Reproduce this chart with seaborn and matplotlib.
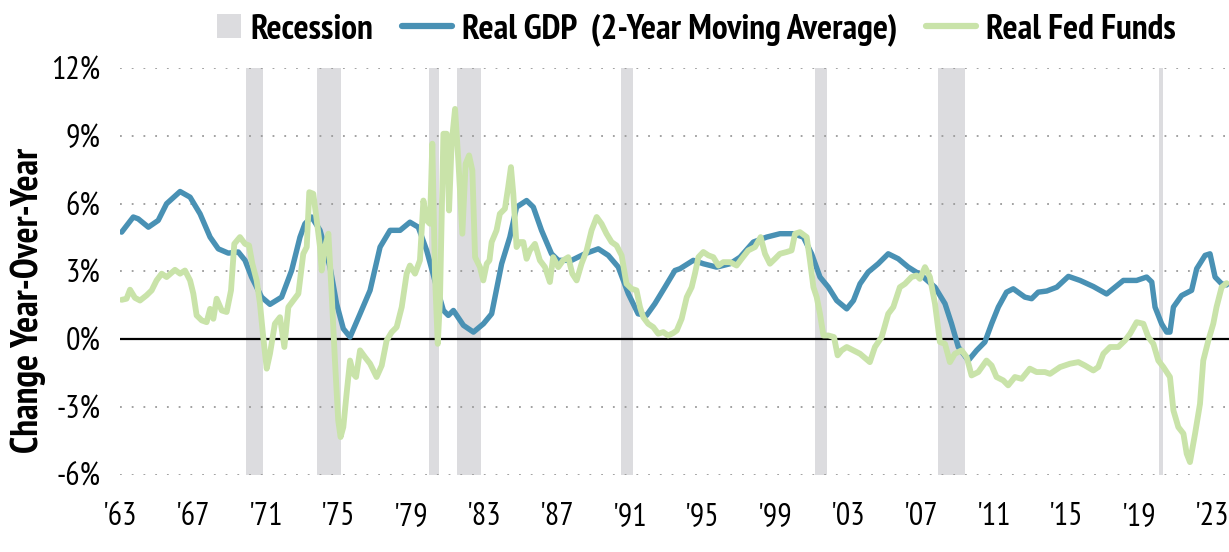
import matplotlib
matplotlib.use("Agg")
import matplotlib.pyplot as plt
import matplotlib.patches as mpatches
import seaborn as sns
import pandas as pd
from matplotlib.lines import Line2D
from matplotlib.legend_handler import HandlerPatch

# ---------------- data ----------------
gdp_years = [1963.09, 1963.73, 1964.0, 1964.56, 1965.1, 1965.56, 1966.3, 1966.85, 1967.4, 1967.95,
             1968.4, 1968.95, 1969.5, 1969.87, 1970.23, 1970.78, 1971.24, 1971.88, 1972.43, 1972.89,
             1973.16, 1973.53, 1973.99, 1974.54, 1974.9, 1975.27, 1975.64, 1976.19, 1976.74, 1977.29,
             1977.84, 1978.39, 1978.93, 1979.39, 1979.85, 1980.4, 1980.77, 1981.04, 1981.32, 1981.87,
             1982.42, 1982.97, 1983.42, 1983.97, 1984.42, 1984.79, 1985.34, 1985.71, 1986.16, 1986.71,
             1987.08, 1987.81, 1988.54, 1989.28, 1989.83, 1990.38, 1990.93, 1991.47, 1991.93, 1992.39,
             1992.94, 1993.49, 1993.77, 1994.5, 1995.05, 1995.78, 1996.52, 1997.07, 1997.8, 1998.53,
             1999.26, 1999.99, 2000.55, 2001.0, 2001.46, 2001.92, 2002.38, 2002.93, 2003.3, 2003.66,
             2004.11, 2004.66, 2005.21, 2005.76, 2006.31, 2007.04, 2007.78, 2008.33, 2008.69, 2009.06,
             2009.61, 2010.07, 2010.52, 2010.89, 2011.26, 2011.71, 2012.08, 2012.72, 2013.09, 2013.45,
             2013.92, 2014.47, 2015.11, 2015.75, 2016.48, 2017.21, 2018.13, 2018.86, 2019.41, 2019.69,
             2019.87, 2020.23, 2020.51, 2020.69, 2020.88, 2021.33, 2021.88, 2022.16, 2022.62, 2022.89,
             2023.17, 2023.53, 2023.8]
gdp_values = [4.74, 5.41, 5.33, 4.96, 5.26, 6.0, 6.54, 6.29, 5.55, 4.52,
              4.0, 3.81, 3.86, 3.49, 2.75, 1.86, 1.54, 1.86, 3.04, 4.52,
              5.11, 5.41, 4.82, 3.19, 1.57, 0.46, 0.09, 1.12, 2.16, 4.08,
              4.82, 4.82, 5.18, 4.96, 3.93, 2.3, 1.27, 1.05, 1.27, 0.61,
              0.31, 0.68, 1.12, 3.34, 4.52, 5.85, 6.14, 5.85, 4.82, 3.78,
              3.49, 3.49, 3.78, 4.0, 3.71, 3.19, 2.01, 1.12, 1.05, 1.57,
              2.3, 3.04, 3.12, 3.49, 3.34, 3.19, 3.34, 3.63, 4.3, 4.52,
              4.67, 4.67, 4.52, 3.78, 2.75, 2.3, 1.71, 1.34, 1.71, 2.45,
              2.97, 3.34, 3.78, 3.56, 3.19, 2.82, 2.3, 1.57, 0.68, -0.35,
              -0.95, -0.5, -0.13, 0.68, 1.42, 2.08, 2.23, 1.86, 1.79, 2.08,
              2.13, 2.3, 2.78, 2.6, 2.33, 2.0, 2.6, 2.6, 2.75, 2.53,
              1.42, 0.68, 0.31, 0.31, 1.42, 1.93, 2.16, 3.12, 3.71, 3.78,
              2.75, 2.45, 2.4]

ff_years = [1963.09, 1963.36, 1963.55, 1963.82, 1964.1, 1964.46, 1964.74, 1965.01, 1965.29, 1965.56,
            1966.02, 1966.3, 1966.57, 1966.85, 1967.03, 1967.21, 1967.49, 1967.76, 1967.95, 1968.13,
            1968.31, 1968.59, 1968.86, 1969.1, 1969.28, 1969.59, 1969.87, 1970.09, 1970.27, 1970.51,
            1970.69, 1970.87, 1971.06, 1971.24, 1971.51, 1971.79, 1972.03, 1972.25, 1972.52, 1972.8,
            1973.07, 1973.26, 1973.4, 1973.62, 1973.81, 1973.99, 1974.08, 1974.26, 1974.45, 1974.63,
            1974.81, 1974.99, 1975.12, 1975.27, 1975.45, 1975.64, 1975.82, 1975.97, 1976.19, 1976.46,
            1976.74, 1977.1, 1977.38, 1977.65, 1977.93, 1978.2, 1978.48, 1978.75, 1978.93, 1979.21,
            1979.48, 1979.67, 1979.85, 1980.03, 1980.16, 1980.31, 1980.46, 1980.58, 1980.77, 1980.95,
            1981.08, 1981.22, 1981.41, 1981.59, 1981.81, 1981.99, 1982.18, 1982.36, 1982.51, 1982.78,
            1982.96, 1983.15, 1983.3, 1983.42, 1983.69, 1983.87, 1984.15, 1984.33, 1984.48, 1984.61,
            1984.79, 1984.97, 1985.16, 1985.34, 1985.52, 1985.8, 1986.07, 1986.35, 1986.62, 1986.8,
            1987.08, 1987.35, 1987.63, 1987.85, 1988.09, 1988.36, 1988.64, 1988.91, 1989.19, 1989.46,
            1989.73, 1990.01, 1990.28, 1990.56, 1990.83, 1991.11, 1991.38, 1991.57, 1991.75, 1992.02,
            1992.3, 1992.57, 1992.85, 1993.12, 1993.4, 1993.59, 1993.86, 1994.14, 1994.41, 1994.59,
            1994.78, 1995.05, 1995.33, 1995.6, 1995.88, 1996.15, 1996.52, 1996.88, 1997.16, 1997.52,
            1997.89, 1998.2, 1998.44, 1998.71, 1998.99, 1999.26, 1999.63, 1999.9, 2000.09, 2000.36,
            2000.73, 2000.91, 2001.1, 2001.28, 2001.46, 2001.65, 2001.92, 2002.23, 2002.43, 2002.65,
            2002.93, 2003.29, 2003.66, 2004.2, 2004.48, 2004.85, 2005.21, 2005.49, 2005.85, 2006.13,
            2006.49, 2006.77, 2006.95, 2007.23, 2007.5, 2007.78, 2008.05, 2008.33, 2008.6, 2008.87,
            2009.24, 2009.52, 2009.79, 2010.16, 2010.61, 2010.89, 2011.16, 2011.53, 2011.8, 2012.17,
            2012.54, 2012.99, 2013.36, 2013.82, 2014.1, 2014.65, 2015.2, 2015.66, 2016.02, 2016.48,
            2016.75, 2017.03, 2017.4, 2017.85, 2018.22, 2018.5, 2018.86, 2019.23, 2019.5, 2019.78,
            2020.05, 2020.33, 2020.69, 2020.88, 2021.15, 2021.43, 2021.61, 2021.79, 2022.07, 2022.34,
            2022.52, 2022.8, 2023.07, 2023.25, 2023.53, 2023.8]
ff_values = [1.74, 1.79, 2.19, 1.83, 1.71, 1.94, 2.16, 2.6, 2.9, 2.75,
             3.07, 2.9, 3.04, 2.6, 2.01, 1.05, 0.83, 0.75, 1.34, 0.9,
             1.79, 1.27, 1.2, 2.16, 4.22, 4.52, 4.22, 4.15, 3.34, 2.6,
             1.57, 0.09, -1.31, -0.65, 0.68, 0.97, -0.35, 1.42, 1.71, 2.01,
             3.78, 4.08, 6.51, 6.44, 5.26, 4.08, 3.04, 4.08, 4.67, 2.01,
             -0.95, -3.6, -4.34, -3.9, -2.42, -0.95, -1.54, -1.68, -0.5, -0.8,
             -1.09, -1.68, -1.17, -0.06, 0.31, 0.53, 1.42, 2.9, 3.26, 2.9,
             3.49, 6.14, 5.26, 5.11, 8.66, 2.75, -0.21, 1.71, 9.1, 9.1,
             5.7, 8.66, 10.2, 7.92, 4.67, 7.77, 8.14, 7.47, 3.63, 3.19,
             2.6, 3.34, 3.49, 4.3, 4.82, 5.55, 5.78, 6.74, 7.62, 6.44,
             4.08, 4.3, 4.3, 3.56, 3.93, 4.22, 3.49, 3.19, 2.53, 3.63,
             3.19, 3.49, 3.63, 2.9, 2.6, 3.34, 3.93, 4.82, 5.41, 5.11,
             4.67, 4.3, 4.15, 3.71, 2.45, 2.23, 2.16, 1.42, 0.97, 0.68,
             0.53, 0.24, 0.31, 0.16, 0.27, 0.38, 0.9, 1.86, 2.3, 2.9,
             3.63, 3.86, 3.71, 3.63, 3.26, 3.41, 3.41, 3.26, 3.56, 3.93,
             4.08, 4.52, 3.78, 3.34, 3.56, 3.78, 3.86, 3.93, 4.67, 4.74,
             4.52, 3.49, 2.3, 1.86, 1.12, 0.16, 0.16, 0.09, -0.72, -0.5,
             -0.35, -0.5, -0.65, -1.02, -0.35, 0.09, 1.12, 1.42, 2.3, 2.45,
             2.75, 2.82, 2.67, 3.19, 2.75, 1.57, -0.13, -0.21, -1.02, -0.65,
             -0.5, -0.8, -1.61, -1.46, -0.95, -1.17, -1.68, -1.83, -2.05, -1.68,
             -1.76, -1.31, -1.46, -1.46, -1.54, -1.24, -1.09, -1.02, -1.17, -1.39,
             -1.24, -0.65, -0.35, -0.35, -0.06, 0.24, 0.75, 0.68, 0.09, -0.21,
             -0.95, -1.24, -1.68, -3.16, -3.9, -4.19, -5.08, -5.45, -4.19, -2.87,
             -0.95, -0.06, 0.68, 1.42, 2.3, 2.48]

recession_starts = [1969.92, 1973.83, 1980.0, 1981.5, 1990.5, 2001.17, 2007.92, 2020.08]
recession_ends = [1970.83, 1975.17, 1980.5, 1982.83, 1991.17, 2001.83, 2009.42, 2020.33]

xtick_years = [1963, 1967, 1971, 1975, 1979, 1983, 1987, 1991, 1995, 1999, 2003, 2007, 2011, 2015, 2019, 2023]
xtick_labels = ["'63", "'67", "'71", "'75", "'79", "'83", "'87", "'91", "'95", "'99", "'03", "'07", "'11", "'15", "'19", "'23"]
ytick_values = [-6, -3, 0, 3, 6, 9, 12]
ytick_labels = ["-6%", "-3%", "0%", "3%", "6%", "9%", "12%"]

# ---------------- style ----------------
sns.set_theme(style="white")
FONT = ["PT Sans Narrow", "DejaVu Sans"]
plt.rcParams["font.family"] = FONT
plt.rcParams["text.color"] = "black"
plt.rcParams["xtick.color"] = "black"
plt.rcParams["ytick.color"] = "black"

BLUE = "#4991b4"
GREEN = "#c9e3a9"
GRAY = "#dcdcdf"

fig = plt.figure(figsize=(12.29, 5.52), dpi=100)
ax = fig.add_axes([120 / 1229, 1 - 474.5 / 552, 1 - 120 / 1229, (474.5 - 68.3) / 552])

for s, e in zip(recession_starts, recession_ends):
    ax.axvspan(s, e, color=GRAY, lw=0, zorder=0)

for v in ytick_values:
    if v != 0:
        ax.axhline(v, color="#9a9a9a", lw=1.3, ls=(0, (1, 5.5)), zorder=0.5)
ax.axhline(0, color="black", lw=1.6, zorder=1)

gdp_df = pd.DataFrame({"year": gdp_years, "value": gdp_values})
ff_df = pd.DataFrame({"year": ff_years, "value": ff_values})

sns.lineplot(data=gdp_df, x="year", y="value", ax=ax, color=BLUE, lw=3.9, zorder=2)
sns.lineplot(data=ff_df, x="year", y="value", ax=ax, color=GREEN, lw=4.2, zorder=3)

ax.set_xlim(1963, 1963 + (1229 - 120) / 18.2)
ax.set_ylim(-6, 12)
ax.set_xticks(xtick_years)
ax.set_xticklabels(xtick_labels, fontsize=23)
ax.set_yticks(ytick_values)
ax.set_yticklabels(ytick_labels, fontsize=23)
ax.tick_params(axis="x", length=0, pad=20)
ax.tick_params(axis="y", length=0, pad=14)
ax.set_xlabel("")
ax.set_ylabel("")
for sp in ax.spines.values():
    sp.set_visible(False)
ax.grid(False)

fig.text(28 / 1229, 1 - 300 / 552, "Change Year-Over-Year", rotation=90,
         ha="center", va="center", fontsize=27, fontweight="bold", family=FONT)


def square_patch(legend, orig_handle, xdescent, ydescent, width, height, fontsize):
    s = height * 0.95
    return mpatches.Rectangle((-xdescent + width - s, -ydescent + height / 2 - s / 2), s, s)


handles = [mpatches.Patch(facecolor=GRAY, edgecolor="none"),
           Line2D([0], [0], color=BLUE, lw=4.5),
           Line2D([0], [0], color=GREEN, lw=4.5)]
labels = ["Recession", "Real GDP  (2-Year Moving Average)", "Real Fed Funds"]
fig.legend(handles, labels, loc="center", bbox_to_anchor=(683 / 1229, 1 - 30 / 552),
           ncol=3, frameon=False, prop={"family": FONT, "weight": "bold", "size": 25.5},
           handlelength=1.42, handletextpad=0.28, columnspacing=0.8,
           handler_map={mpatches.Patch: HandlerPatch(patch_func=square_patch)})

fig.savefig("out.png", dpi=100)
